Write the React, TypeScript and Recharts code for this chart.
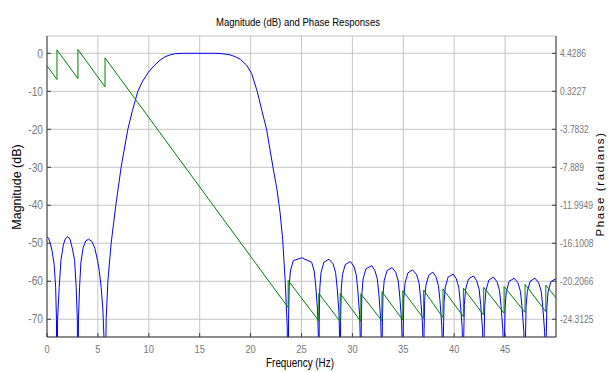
import { LineChart, Line, XAxis, YAxis, CartesianGrid } from 'recharts';

// frequency (Hz), magnitude (dB), nulls pushed below the axis
const magnitudeDb: [number, number][] = [
  [0, -48.2], [0.15, -48.7], [0.32, -50.0], [0.5, -52], [0.7, -55.5], [0.85, -61.6], [0.93, -70], [0.98, -100],
  [1.04, -70], [1.2, -61.6], [1.37, -54.5], [1.6, -50.5], [1.8, -48.8], [2.02, -48.3], [2.25, -48.8], [2.5, -51.5], [2.71, -54.5], [2.87, -61.6], [2.98, -70], [3.04, -100],
  [3.09, -70], [3.2, -61.6], [3.33, -55], [3.55, -51.2], [3.8, -49.4], [4.08, -48.9], [4.4, -49.5], [4.7, -51.3], [4.96, -54.5], [5.15, -57.5], [5.32, -61.6], [5.48, -67], [5.6, -75], [5.68, -100],
  [5.81, -70], [5.98, -60], [6.3, -50], [6.76, -40], [7.28, -30], [7.94, -20], [8.4, -15], [8.92, -10], [9.4, -7.3], [9.96, -5.0], [10.5, -3.3], [11.1, -1.8], [11.6, -0.9], [12.1, -0.4], [12.6, -0.1], [13.3, 0],
  [16.5, 0], [17.0, -0.05], [17.5, -0.2], [17.97, -0.4], [18.5, -0.9], [19.0, -1.6], [19.6, -3.1], [20.1, -5.3], [20.65, -10], [21.1, -15], [21.57, -20], [22.2, -30], [22.6, -36], [22.9, -42], [23.15, -49], [23.4, -60], [23.6, -72], [23.69, -100],
  [23.73, -70], [23.79, -61.3], [23.91, -57.3], [24.19, -54.6], [25.0, -53.8], [26.0, -55.0], [26.25, -57.3], [26.4, -61.3], [26.58, -67.8], [26.66, -75], [26.7, -100],
  [26.74, -70], [26.8, -61.7], [26.92, -57.7], [27.2, -55.0], [27.7, -54.2], [28.1, -55.4], [28.35, -57.7], [28.5, -61.7], [28.68, -68.2], [28.76, -76], [28.8, -100],
  [28.84, -71], [28.9, -62.3], [29.02, -58.3], [29.3, -55.6], [29.8, -54.8], [30.13, -56.0], [30.38, -58.3], [30.53, -62.3], [30.71, -68.8], [30.79, -77], [30.83, -100],
  [30.87, -72], [30.93, -63.4], [31.05, -59.4], [31.33, -56.7], [31.9, -55.9], [32.2, -57.1], [32.45, -59.4], [32.6, -63.4], [32.78, -69.9], [32.86, -78], [32.9, -100],
  [32.94, -72], [33.0, -63.9], [33.12, -59.9], [33.4, -57.2], [33.9, -56.4], [34.25, -57.6], [34.5, -59.9], [34.65, -63.9], [34.83, -70.4], [34.91, -78], [34.95, -100],
  [34.99, -73], [35.05, -64.5], [35.17, -60.5], [35.45, -57.8], [35.9, -57.0], [36.3, -58.2], [36.55, -60.5], [36.7, -64.5], [36.88, -71], [36.96, -79], [37.0, -100],
  [37.04, -73], [37.1, -65.1], [37.22, -61.1], [37.5, -58.4], [37.9, -57.6], [38.2, -58.8], [38.45, -61.1], [38.6, -65.1], [38.78, -71.6], [38.86, -79], [38.9, -100],
  [38.94, -74], [39.0, -65.6], [39.12, -61.6], [39.4, -58.9], [39.9, -58.1], [40.2, -59.3], [40.45, -61.6], [40.6, -65.6], [40.78, -72.1], [40.86, -80], [40.9, -100],
  [40.94, -74], [41.0, -66.1], [41.12, -62.1], [41.4, -59.4], [41.9, -58.6], [42.2, -59.8], [42.45, -62.1], [42.6, -66.1], [42.78, -72.6], [42.86, -80], [42.9, -100],
  [42.94, -75], [43.0, -66.4], [43.12, -62.4], [43.4, -59.7], [43.85, -58.9], [44.2, -60.1], [44.45, -62.4], [44.6, -66.4], [44.78, -72.9], [44.86, -80], [44.9, -100],
  [44.94, -75], [45.0, -66.7], [45.12, -62.7], [45.4, -60.0], [45.9, -59.2], [46.26, -60.4], [46.51, -62.7], [46.66, -66.7], [46.84, -73.2], [46.92, -80], [46.96, -100],
  [47.0, -75], [47.06, -66.7], [47.18, -62.7], [47.46, -60.0], [47.94, -59.2], [48.3, -60.4], [48.55, -62.7], [48.7, -66.7], [48.88, -73.2], [48.96, -80], [49.0, -100],
  [49.04, -75], [49.1, -66.8], [49.22, -62.8], [49.5, -60.1], [50, -59.3],
];

// frequency (Hz), phase (radians) - sawtooth with pi jumps at the nulls
const phaseRad: [number, number][] = [
  [0, 3.07], [0.98, 1.6], [0.98, 4.8], [3.04, 1.7], [3.04, 4.84], [5.7, 0.8], [5.7, 3.94],
  [23.69, -23.05], [23.69, -20.12], [26.7, -24.48], [26.7, -21.52], [28.8, -24.56], [28.8, -21.52],
  [30.83, -24.56], [30.83, -21.56], [32.9, -24.48], [32.9, -21.32], [34.95, -24.4], [34.95, -21.23],
  [37.0, -24.23], [37.0, -21.15], [38.9, -24.15], [38.9, -21.03], [40.9, -24.03], [40.9, -20.95],
  [42.9, -23.86], [42.9, -20.86], [44.9, -23.66], [44.9, -20.78], [46.96, -23.57], [46.96, -20.54],
  [49.0, -23.49], [49.0, -20.62], [50, -22.0],
];

const freqTicks = [0, 5, 10, 15, 20, 25, 30, 35, 40, 45];
const magTicks = [-70, -60, -50, -40, -30, -20, -10, 0];
const phaseTicks = [-24.3125, -20.2066, -16.1008, -11.9949, -7.889, -3.7832, 0.3227, 4.4286];

const FONT = "'Liberation Sans', Arial, Helvetica, sans-serif";
const FRAME = '#3a3a3a';
const TICK_TEXT = '#777';

const magData = magnitudeDb.map(([f, v]) => ({ f, v }));
const phaseData = phaseRad.map(([f, v]) => ({ f, v }));

function makeTick(anchor: 'start' | 'middle' | 'end', size: number, dy: number | string) {
  return (props: any) => {
    const { x, y, payload } = props;
    return (
      <g transform={`translate(${x},${y})`}>
        <text
          transform="scale(0.85,1)"
          textAnchor={anchor}
          fontSize={size}
          fontFamily={FONT}
          fill={TICK_TEXT}
          dy={dy}
        >
          {String(payload.value)}
        </text>
      </g>
    );
  };
}

const labelBase: React.CSSProperties = {
  position: 'absolute',
  fontFamily: FONT,
  color: '#000',
  whiteSpace: 'nowrap',
  textAlign: 'center',
};

export default function App() {
  return (
    <div
      style={{
        position: 'absolute',
        left: 0,
        top: 0,
        width: 609,
        height: 372,
        overflow: 'hidden',
        background: '#fff',
      }}
    >
      <LineChart width={609} height={372} margin={{ top: 36, right: 0, bottom: 0, left: 0 }}>
        <CartesianGrid stroke="#c4c4c4" yAxisId="mag" />
        <XAxis
          dataKey="f"
          type="number"
          domain={[0, 50]}
          ticks={freqTicks}
          allowDataOverflow
          height={35}
          tickSize={-4}
          tickMargin={8}
          axisLine={{ stroke: FRAME }}
          tickLine={{ stroke: FRAME }}
          tick={makeTick('middle', 11, 12)}
        />
        <XAxis
          xAxisId="top"
          orientation="top"
          dataKey="f"
          type="number"
          domain={[0, 50]}
          ticks={freqTicks}
          height={0}
          tickSize={-4}
          tick={false}
          axisLine={{ stroke: FRAME }}
          tickLine={{ stroke: FRAME }}
        />
        <YAxis
          yAxisId="mag"
          type="number"
          domain={[-74.67, 4.56]}
          ticks={magTicks}
          allowDataOverflow
          width={47}
          tickSize={-4}
          tickMargin={8}
          axisLine={{ stroke: FRAME }}
          tickLine={{ stroke: FRAME }}
          tick={makeTick('end', 12, '0.35em')}
        />
        <YAxis
          yAxisId="phase"
          orientation="right"
          type="number"
          domain={[-26.23, 6.3]}
          ticks={phaseTicks}
          allowDataOverflow
          width={53}
          tickSize={-4}
          tickMargin={8}
          axisLine={{ stroke: FRAME }}
          tickLine={{ stroke: FRAME }}
          tick={makeTick('start', 10, '0.35em')}
        />
        <Line
          yAxisId="mag"
          data={magData}
          dataKey="v"
          type="linear"
          stroke="#0000ff"
          strokeWidth={1}
          dot={false}
          isAnimationActive={false}
        />
        <Line
          yAxisId="phase"
          data={phaseData}
          dataKey="v"
          type="linear"
          stroke="#008000"
          strokeWidth={1}
          dot={false}
          isAnimationActive={false}
        />
      </LineChart>

      <div
        style={{
          ...labelBase,
          left: 148,
          top: 15,
          width: 300,
          fontSize: 11.5,
          lineHeight: '14px',
          transform: 'scaleX(0.83)',
        }}
      >
        Magnitude (dB) and Phase Responses
      </div>
      <div
        style={{
          ...labelBase,
          left: 200,
          top: 356,
          width: 200,
          fontSize: 12,
          lineHeight: '14px',
          transform: 'scaleX(0.82)',
        }}
      >
        Frequency (Hz)
      </div>
      <div
        style={{
          ...labelBase,
          left: 17 - 70,
          top: 187 - 8,
          width: 140,
          height: 16,
          fontSize: 12.5,
          lineHeight: '16px',
          transform: 'rotate(-90deg)',
        }}
      >
        Magnitude (dB)
      </div>
      <div
        style={{
          ...labelBase,
          left: 600 - 70,
          top: 184 - 8,
          width: 140,
          height: 16,
          fontSize: 11.5,
          lineHeight: '16px',
          letterSpacing: 1.6,
          transform: 'rotate(-90deg)',
        }}
      >
        Phase (radians)
      </div>
    </div>
  );
}
